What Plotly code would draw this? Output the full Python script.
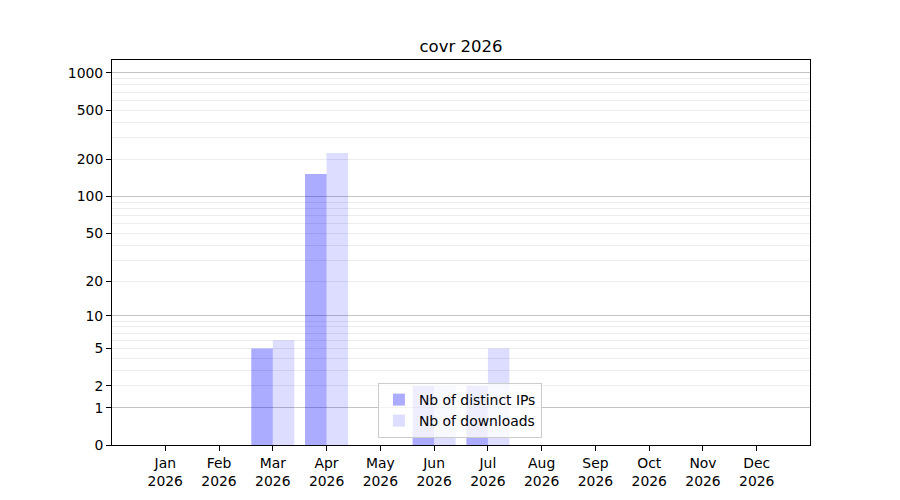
import plotly.graph_objects as go

months = ["Jan", "Feb", "Mar", "Apr", "May", "Jun", "Jul", "Aug", "Sep", "Oct", "Nov", "Dec"]
year = "2026"
distinct_ips = [0, 0, 5, 152, 0, 2, 2, 0, 0, 0, 0, 0]
downloads = [0, 0, 6, 225, 0, 2, 5, 0, 0, 0, 0, 0]
labeled_ticks = [0, 1, 2, 5, 10, 20, 50, 100, 200, 500, 1000]
major_grid = [1, 10, 100, 1000]
minor_grid = [2, 3, 4, 5, 6, 7, 8, 9, 20, 30, 40, 50, 60, 70, 80, 90,
              200, 300, 400, 500, 600, 700, 800, 900]

FONT = "DejaVu Sans"
x = list(range(len(months)))
tick_text = [f"{m}<br>{year}" for m in months]

fig = go.Figure()
fig.add_trace(go.Bar(
    x=x, y=[v + 1 for v in distinct_ips], name="Nb of distinct IPs",
    offset=-0.4, width=0.4, marker=dict(color="rgba(0,0,255,0.33)", line=dict(width=0)),
    yaxis="y",
))
fig.add_trace(go.Bar(
    x=x, y=[v + 1 for v in downloads], name="Nb of downloads",
    offset=0.0, width=0.4, marker=dict(color="rgba(0,0,255,0.135)", line=dict(width=0)),
    yaxis="y",
))
# invisible trace for the overlay axis that carries the darker grid lines
fig.add_trace(go.Scatter(x=[0], y=[1], yaxis="y2", mode="markers",
                         marker=dict(opacity=0), showlegend=False, hoverinfo="skip"))

# page body adds an ~8px offset; compensate so the plot area lands where the reference has it
OFF = 8
W, H = 900 - OFF, 500 - OFF
L, T = 112 - OFF, 60 - OFF
PW, PH = 698, 385

yr = [0, 3.105]
fig.update_layout(
    width=W, height=H,
    margin=dict(l=L, r=W - L - PW, t=T, b=H - T - PH),
    paper_bgcolor="white", plot_bgcolor="white",
    font=dict(family=FONT, size=13.9, color="black"),
    barmode="overlay",
    title=dict(text="covr 2026", x=0.5, xref="paper", xanchor="center",
               y=1 - (46 - OFF) / H, yref="container", yanchor="middle",
               font=dict(family=FONT, size=16.5, color="black")),
    xaxis=dict(
        range=[-0.99, 11.99], tickmode="array", tickvals=x, ticktext=tick_text,
        showgrid=False, zeroline=False, showline=True, linecolor="black", linewidth=1,
        mirror=True, ticks="outside", ticklen=5, tickcolor="black", tickwidth=1,
    ),
    yaxis=dict(
        type="log", range=yr, tickmode="array",
        tickvals=[t + 1 for t in labeled_ticks], ticktext=[str(t) for t in labeled_ticks],
        showgrid=False, zeroline=False, showline=True, linecolor="black", linewidth=1,
        mirror=True, ticks="outside", ticklen=5, tickcolor="black", tickwidth=1,
        minor=dict(tickmode="array", tickvals=[t + 1 for t in minor_grid],
                   showgrid=True, gridcolor="#ececec", gridwidth=1, ticks=""),
    ),
    yaxis2=dict(
        type="log", range=yr, overlaying="y", side="left", tickmode="array",
        tickvals=[t + 1 for t in major_grid], showticklabels=False, ticks="",
        showgrid=True, gridcolor="#c4c4c4", gridwidth=1, zeroline=False, showline=False,
    ),
    legend=dict(
        x=0.381, y=0.018, xanchor="left", yanchor="bottom",
        bgcolor="rgba(255,255,255,0.8)", bordercolor="#cccccc", borderwidth=1,
        font=dict(family=FONT, size=13.9, color="black"),
        tracegroupgap=0,
    ),
)

fig.write_html("out.html")
